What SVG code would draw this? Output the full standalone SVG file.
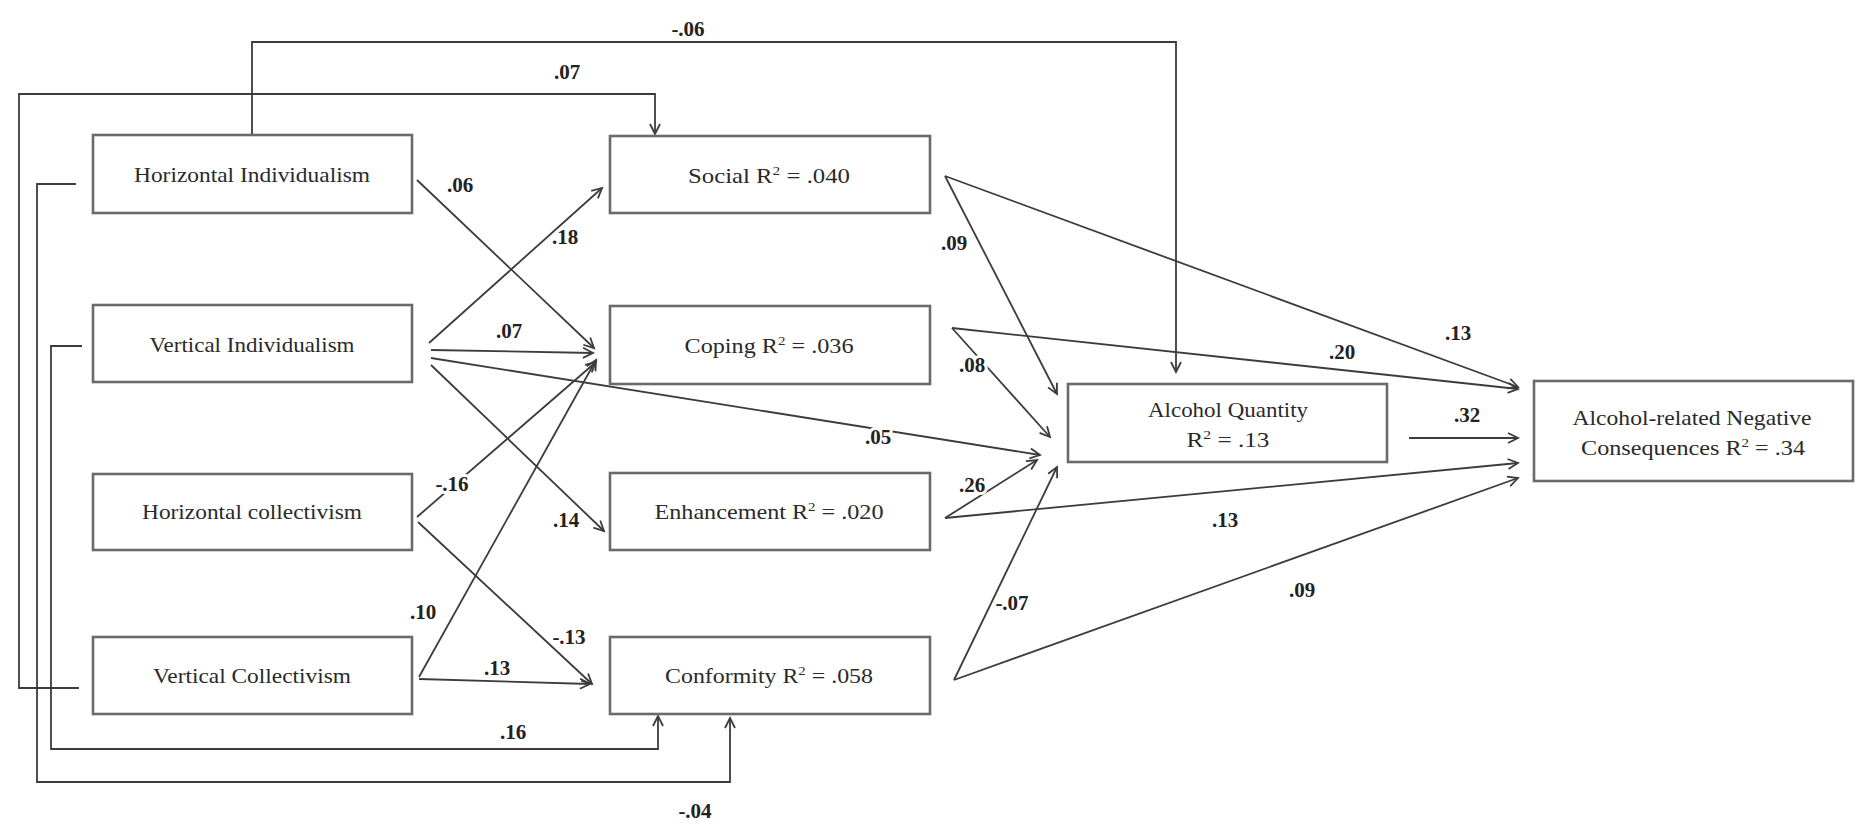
<svg xmlns="http://www.w3.org/2000/svg" width="1860" height="828" viewBox="0 0 1860 828">
<style>
.box{fill:#fff;stroke:#6a6a6a;stroke-width:2.6}
.t{font-family:"Liberation Serif","Times New Roman",serif;font-size:21px;fill:#2a2a2a;text-anchor:middle}
.c{fill:none;stroke:#3c3c3c;stroke-width:1.8;marker-end:url(#ah)}
.l{font-family:"Liberation Serif","Times New Roman",serif;font-size:21px;font-weight:bold;fill:#222;text-anchor:middle;stroke:#fff;stroke-width:6;paint-order:stroke;stroke-linejoin:round}
</style>
<defs>
<marker id="ah" markerUnits="userSpaceOnUse" markerWidth="14" markerHeight="14" refX="11" refY="6" orient="auto">
<path d="M1,1 L11,6 L1,11" fill="none" stroke="#3c3c3c" stroke-width="1.8"/>
</marker>
</defs>
<rect width="1860" height="828" fill="#fff"/>
<g id="connectors">
<path class="c" d="M252,135 V42 H1176 V372"/>
<path class="c" d="M79,688 H19 V94 H655 V134"/>
<path class="c" d="M82,346 H51 V749 H658 V716"/>
<path class="c" d="M76,184 H37 V782 H730 V718"/>
<path class="c" d="M417,180 L594,348"/>
<path class="c" d="M429,343 L602,188"/>
<path class="c" d="M431,350 L593,353"/>
<path class="c" d="M431,358 L1040,455"/>
<path class="c" d="M431,365 L604,531"/>
<path class="c" d="M417,517 L596,362"/>
<path class="c" d="M418,522 L592,684"/>
<path class="c" d="M419,677 L596,360"/>
<path class="c" d="M419,679 L590,684"/>
<path class="c" d="M945,176 L1057,394"/>
<path class="c" d="M945,176 L1518,387"/>
<path class="c" d="M952,328 L1050,437"/>
<path class="c" d="M952,328 L1518,389"/>
<path class="c" d="M945,518 L1037,460"/>
<path class="c" d="M945,518 L1518,463"/>
<path class="c" d="M954,680 L1057,467"/>
<path class="c" d="M954,680 L1518,478"/>
<path class="c" d="M1409,438 L1518,438"/>
<text class="l" x="688" y="36">-.06</text>
<text class="l" x="567" y="79">.07</text>
<text class="l" x="513" y="739">.16</text>
<text class="l" x="695" y="818">-.04</text>
<text class="l" x="460" y="192">.06</text>
<text class="l" x="565" y="244">.18</text>
<text class="l" x="509" y="338">.07</text>
<text class="l" x="878" y="444">.05</text>
<text class="l" x="566" y="527">.14</text>
<text class="l" x="452" y="491">-.16</text>
<text class="l" x="569" y="644">-.13</text>
<text class="l" x="423" y="619">.10</text>
<text class="l" x="497" y="675">.13</text>
<text class="l" x="954" y="250">.09</text>
<text class="l" x="1458" y="340">.13</text>
<text class="l" x="972" y="372">.08</text>
<text class="l" x="1342" y="359">.20</text>
<text class="l" x="972" y="492">.26</text>
<text class="l" x="1225" y="527">.13</text>
<text class="l" x="1012" y="610">-.07</text>
<text class="l" x="1302" y="597">.09</text>
<text class="l" x="1467" y="422">.32</text>
</g>
<g id="hi"><rect class="box" x="93" y="135" width="319" height="78"/><text class="t" x="252" y="182" textLength="236" lengthAdjust="spacingAndGlyphs">Horizontal  Individualism</text></g>
<g id="vi"><rect class="box" x="93" y="305" width="319" height="77"/><text class="t" x="252" y="352" textLength="205" lengthAdjust="spacingAndGlyphs">Vertical  Individualism</text></g>
<g id="hc"><rect class="box" x="93" y="474" width="319" height="76"/><text class="t" x="252" y="519" textLength="220" lengthAdjust="spacingAndGlyphs">Horizontal  collectivism</text></g>
<g id="vc"><rect class="box" x="93" y="637" width="319" height="77"/><text class="t" x="252" y="683" textLength="198" lengthAdjust="spacingAndGlyphs">Vertical  Collectivism</text></g>
<g id="social"><rect class="box" x="610" y="136" width="320" height="77"/><text class="t" x="769" y="183" textLength="162" lengthAdjust="spacingAndGlyphs">Social  R<tspan font-size="13" dy="-8">2</tspan><tspan dy="8"> = .040</tspan></text></g>
<g id="coping"><rect class="box" x="610" y="306" width="320" height="78"/><text class="t" x="769" y="353" textLength="169" lengthAdjust="spacingAndGlyphs">Coping  R<tspan font-size="13" dy="-8">2</tspan><tspan dy="8"> = .036</tspan></text></g>
<g id="enhancement"><rect class="box" x="610" y="473" width="320" height="77"/><text class="t" x="769" y="519" textLength="229" lengthAdjust="spacingAndGlyphs">Enhancement  R<tspan font-size="13" dy="-8">2</tspan><tspan dy="8"> = .020</tspan></text></g>
<g id="conformity"><rect class="box" x="610" y="637" width="320" height="77"/><text class="t" x="769" y="683" textLength="208" lengthAdjust="spacingAndGlyphs">Conformity  R<tspan font-size="13" dy="-8">2</tspan><tspan dy="8"> = .058</tspan></text></g>
<g id="aq"><rect class="box" x="1068" y="384" width="319" height="78"/><text class="t" x="1228" y="417" textLength="160" lengthAdjust="spacingAndGlyphs">Alcohol  Quantity</text><text class="t" x="1228" y="447" textLength="83" lengthAdjust="spacingAndGlyphs">R<tspan font-size="13" dy="-8">2</tspan><tspan dy="8"> = .13</tspan></text></g>
<g id="arnc"><rect class="box" x="1534" y="381" width="319" height="100"/><text class="t" x="1692" y="425" textLength="239" lengthAdjust="spacingAndGlyphs">Alcohol-related  Negative</text><text class="t" x="1693" y="455" textLength="224" lengthAdjust="spacingAndGlyphs">Consequences  R<tspan font-size="13" dy="-8">2</tspan><tspan dy="8"> = .34</tspan></text></g>
</svg>
